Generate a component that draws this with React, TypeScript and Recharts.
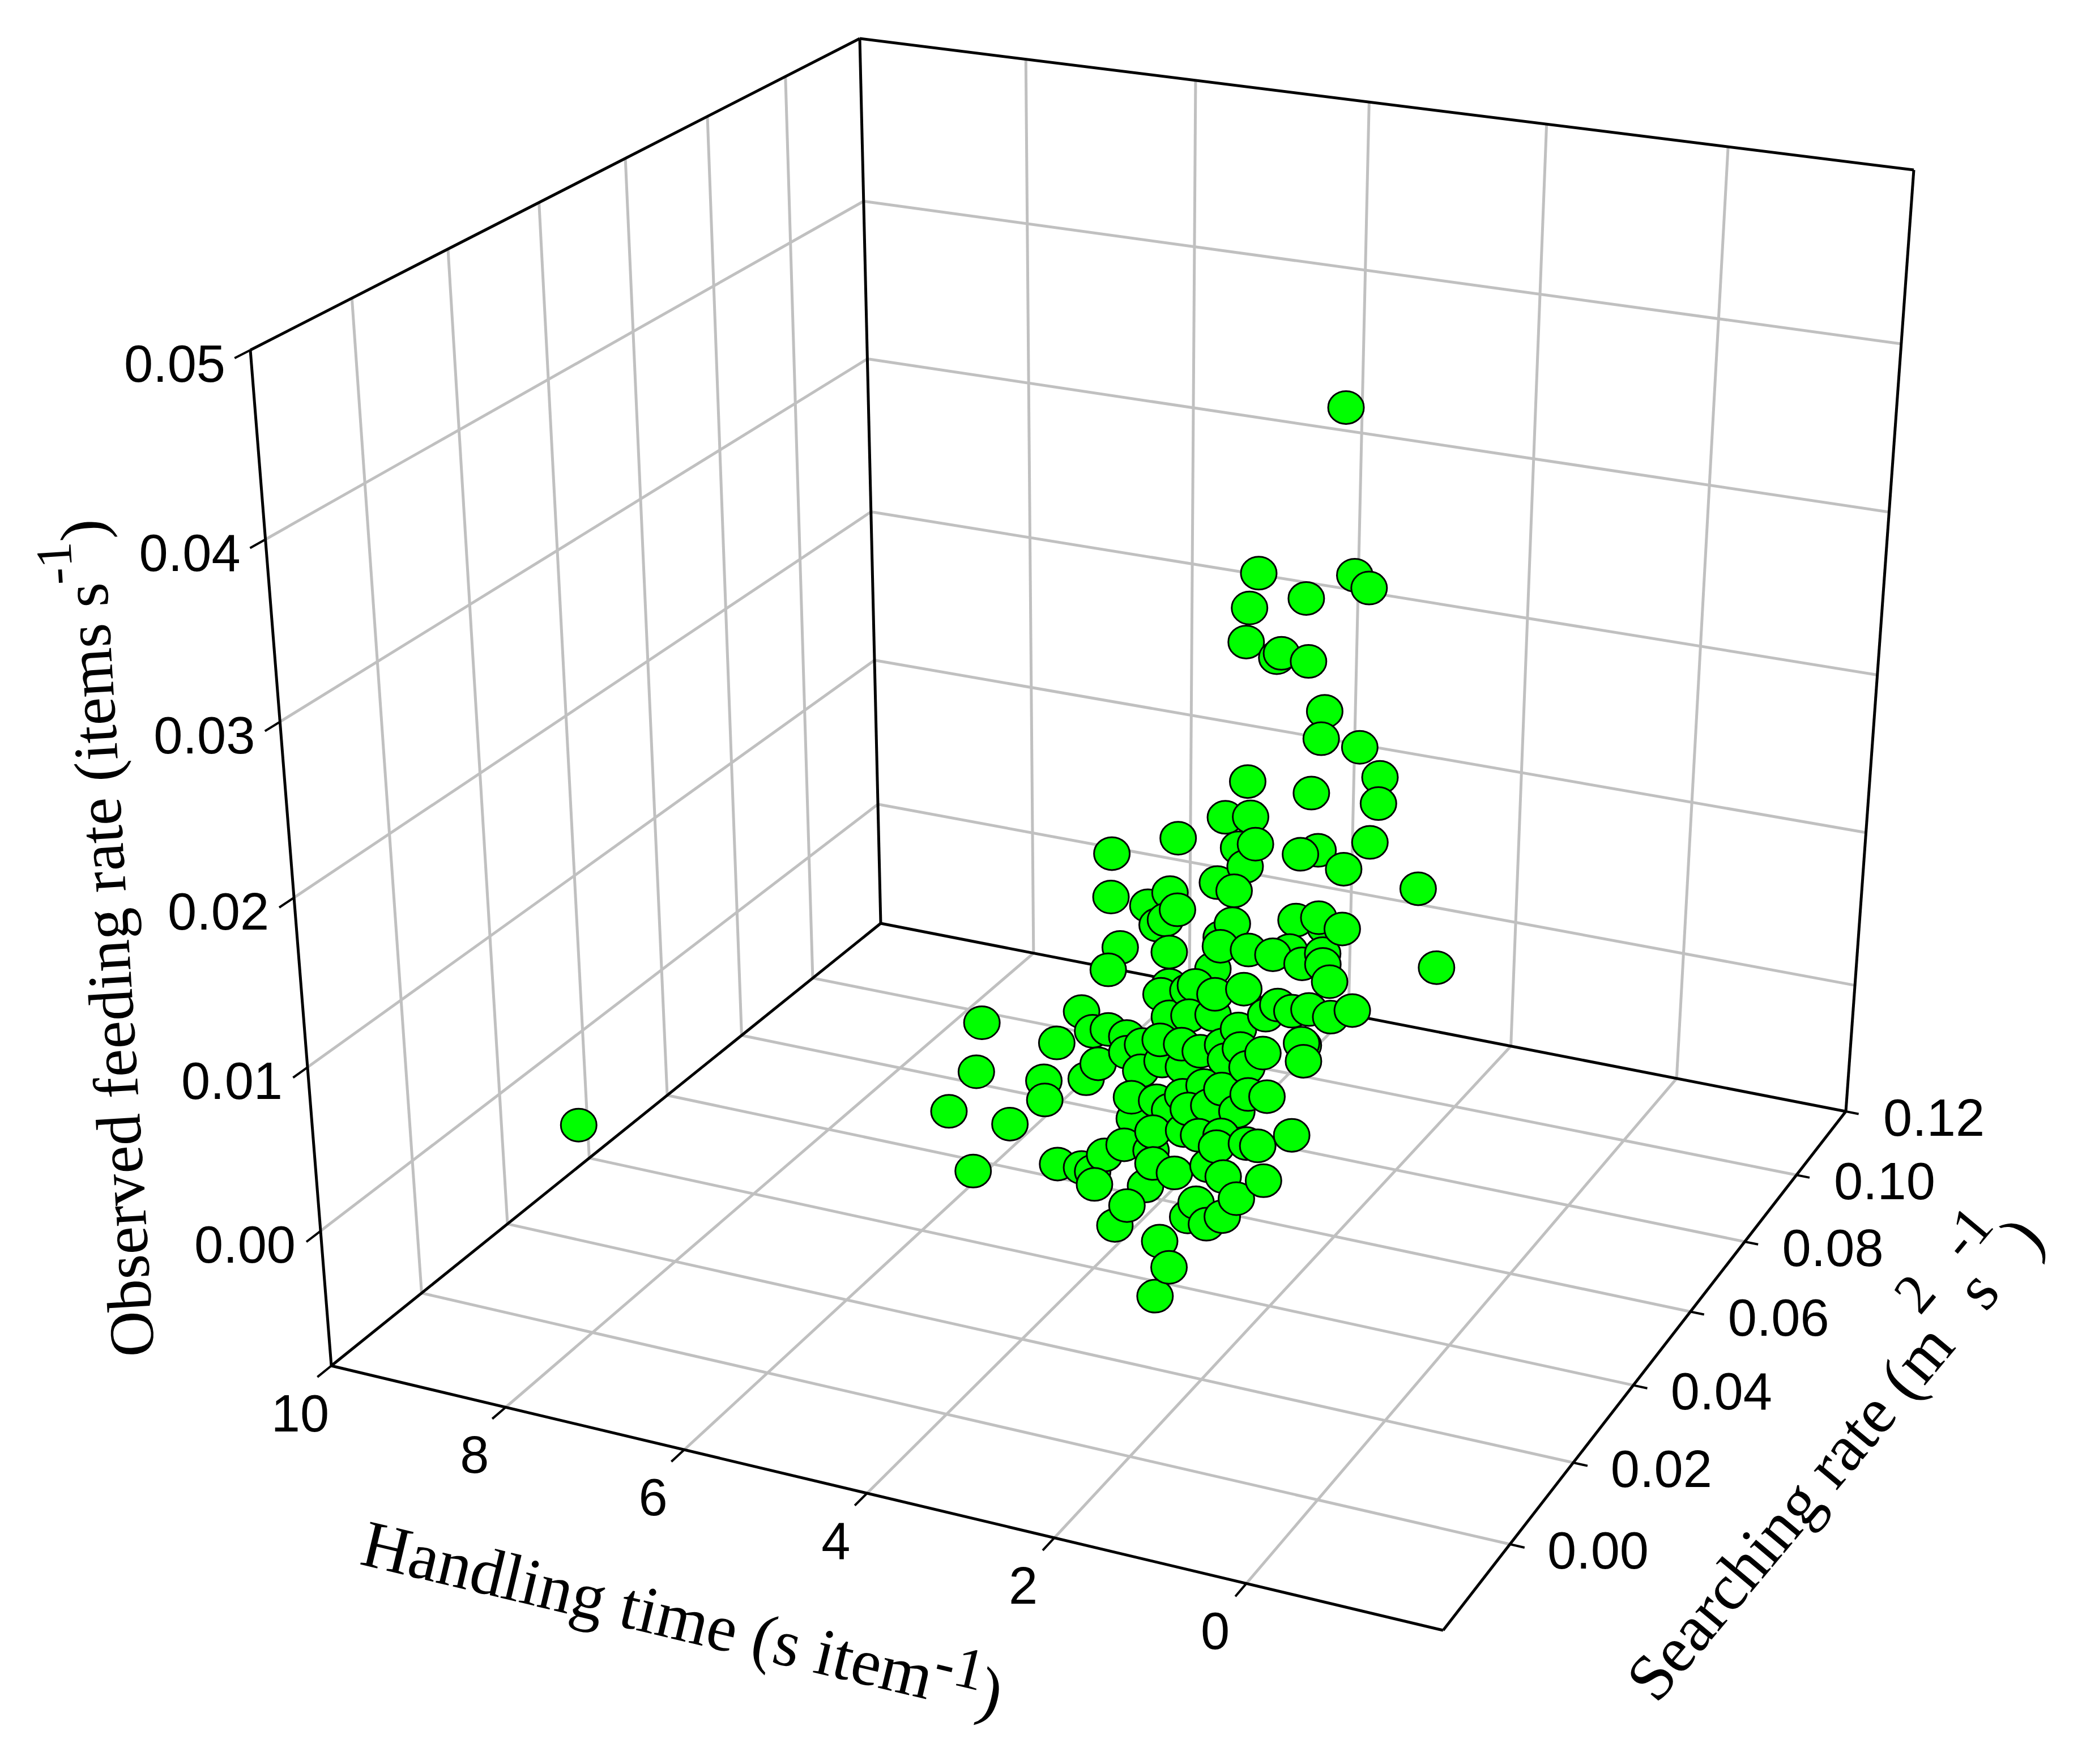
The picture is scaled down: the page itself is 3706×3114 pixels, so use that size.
import { ScatterChart, Scatter, XAxis, YAxis, ReferenceLine } from 'recharts'

const WIDTH = 3706
const HEIGHT = 3114

const HANDLING_RANGE = [-2, 10]
const SEARCHING_RANGE = [-0.02, 0.12]
const FEEDING_RANGE = [-0.0085, 0.05]

const handlingTicks = [10, 8, 6, 4, 2, 0]
const searchingTicks = [0, 0.02, 0.04, 0.06, 0.08, 0.1, 0.12]
const feedingTicks = [0, 0.01, 0.02, 0.03, 0.04, 0.05]
const handlingGrid = [8, 6, 4, 2, 0]
const searchingGrid = [0, 0.02, 0.04, 0.06, 0.08, 0.1]
const feedingGrid = [0, 0.01, 0.02, 0.03, 0.04]

// handling time (s item-1)
const handlingTime = [
  2.28, 2.75, 2.77, 2.69, 2.36, 2.31, 2.02, 2.2, 1.76, 1.57,
  1.73, 1.69, 1.28, 0.99, 0.93, 2.32, 1.64, 2.48, 2.21, 2.91,
  3.55, 2.08, 2.26, 2.15, 1.6, 1.45, 1.14, 0.94, 0.32, 2.37,
  2.19, 3.44, 3.04, 2.84, 2.72, 2.81, 2.9, 2.13, 2.21, 3.22,
  3.27, 2.69, 2.18, 1.88, 1.49, 1.25, 1.0, 1.18, 1.62, 1.48,
  1.31, 1.13, 1.09, 0.98, 0.27, 1.85, 2.22, 2.33, 2.61, 2.66,
  2.41, 2.12, 1.54, 1.45, 1.3, 1.12, 0.89, 0.7, 3.44, 4.45,
  3.11, 2.91, 3.28, 2.53, 2.32, 2.1, 1.79, 1.1, 1.12, 1.06,
  3.63, 4.39, 3.14, 3.23, 2.87, 2.74, 2.55, 2.32, 2.12, 1.92,
  1.73, 1.49, 1.62, 1.85, 2.26, 2.49, 2.68, 3.65, 3.6, 4.57,
  3.9, 2.7, 2.43, 2.19, 2.0, 1.81, 1.53, 1.33, 2.09, 1.91,
  2.29, 1.61, 2.63, 2.39, 2.1, 1.7, 0.99, 2.66, 2.83, 2.37,
  1.94, 1.71, 1.43, 1.31, 3.3, 3.04, 2.92, 2.86, 4.14, 2.31,
  2.08, 1.76, 1.56, 1.17, 2.35, 2.47, 2.56, 1.77, 1.38, 1.82,
  1.62, 1.49, 2.04, 1.9, 1.97, 8.5,
]

// searching rate (m2 s-1)
const searchingRate = [
  0.066, 0.054, 0.052, 0.049, 0.049, 0.049, 0.049, 0.053, 0.055, 0.054,
  0.046, 0.044, 0.044, 0.042, 0.04, 0.04, 0.04, 0.038, 0.038, 0.036,
  0.034, 0.036, 0.036, 0.035, 0.036, 0.037, 0.036, 0.038, 0.035, 0.033,
  0.033, 0.031, 0.031, 0.032, 0.031, 0.03, 0.03, 0.031, 0.03, 0.028,
  0.026, 0.028, 0.029, 0.029, 0.032, 0.032, 0.032, 0.032, 0.029, 0.03,
  0.029, 0.03, 0.029, 0.028, 0.04, 0.027, 0.028, 0.026, 0.026, 0.025,
  0.026, 0.026, 0.025, 0.026, 0.026, 0.026, 0.026, 0.027, 0.023, 0.021,
  0.022, 0.022, 0.022, 0.024, 0.024, 0.025, 0.024, 0.024, 0.024, 0.023,
  0.021, 0.018, 0.02, 0.019, 0.021, 0.022, 0.022, 0.022, 0.022, 0.023,
  0.023, 0.023, 0.022, 0.022, 0.021, 0.021, 0.02, 0.018, 0.017, 0.015,
  0.015, 0.018, 0.018, 0.019, 0.02, 0.02, 0.02, 0.02, 0.018, 0.019,
  0.018, 0.019, 0.017, 0.016, 0.017, 0.017, 0.018, 0.015, 0.014, 0.015,
  0.017, 0.016, 0.017, 0.017, 0.013, 0.013, 0.013, 0.012, 0.011, 0.014,
  0.014, 0.015, 0.014, 0.015, 0.013, 0.011, 0.01, 0.012, 0.013, 0.011,
  0.011, 0.012, 0.009, 0.008, 0.006, 0.009,
]

// observed feeding rate (items s-1)
const feedingRate = [
  0.0409, 0.0329, 0.0312, 0.0298, 0.0292, 0.0295, 0.0293, 0.0321, 0.0335, 0.0331,
  0.0272, 0.026, 0.0259, 0.0248, 0.0237, 0.0236, 0.0236, 0.0217, 0.022, 0.0204,
  0.0192, 0.0209, 0.0205, 0.0197, 0.0208, 0.021, 0.0204, 0.0218, 0.0203, 0.0189,
  0.0186, 0.0173, 0.0172, 0.018, 0.0173, 0.0168, 0.0164, 0.0171, 0.0164, 0.0151,
  0.0141, 0.0154, 0.0161, 0.0162, 0.0178, 0.0182, 0.0178, 0.0177, 0.0162, 0.0164,
  0.016, 0.0166, 0.0162, 0.0155, 0.0147, 0.0143, 0.0149, 0.0142, 0.0139, 0.0135,
  0.0138, 0.0139, 0.0135, 0.014, 0.0138, 0.0141, 0.0139, 0.0143, 0.012, 0.0106,
  0.0115, 0.0113, 0.0112, 0.0125, 0.0128, 0.0129, 0.0126, 0.0124, 0.0125, 0.0117,
  0.0103, 0.0083, 0.0098, 0.009, 0.0106, 0.011, 0.0115, 0.0115, 0.0113, 0.0117,
  0.0117, 0.0117, 0.0109, 0.0111, 0.0104, 0.0105, 0.0099, 0.0086, 0.0077, 0.0063,
  0.0063, 0.0087, 0.0088, 0.0092, 0.0098, 0.0098, 0.0098, 0.0099, 0.0087, 0.0089,
  0.0084, 0.0089, 0.0077, 0.0074, 0.0076, 0.0078, 0.0084, 0.0065, 0.0059, 0.0065,
  0.0075, 0.0073, 0.0076, 0.0076, 0.005, 0.0051, 0.005, 0.0045, 0.004, 0.006,
  0.0057, 0.0063, 0.0061, 0.0061, 0.0048, 0.0039, 0.0028, 0.0047, 0.0052, 0.004,
  0.0038, 0.0042, 0.0027, 0.0015, 0.0001, 0.0021,
]

// page position [x, y] and relative depth of the eight box corners,
// indexed by [u, v, w] = [handling reversed, searching, feeding]
const corners = [
  [0, 0, 0, 585, 2411, 1],
  [1, 0, 0, 2548, 2878, 0.93],
  [0, 1, 0, 1555, 1630, 1.18],
  [1, 1, 0, 3259, 1962, 1.11],
  [0, 0, 1, 442, 618, 0.9],
  [1, 0, 1, 2612, 990, 0.83],
  [0, 1, 1, 1518, 68, 1.08],
  [1, 1, 1, 3379, 300, 1.01],
]

const [hMin, hMax] = HANDLING_RANGE
const [sMin, sMax] = SEARCHING_RANGE
const [fMin, fMax] = FEEDING_RANGE

function project(h: number, s: number, f: number) {
  const u = (hMax - h) / (hMax - hMin)
  const v = (s - sMin) / (sMax - sMin)
  const w = (f - fMin) / (fMax - fMin)
  let x = 0
  let y = 0
  let d = 0
  for (const [cu, cv, cw, cx, cy, cz] of corners) {
    const b = (cu ? u : 1 - u) * (cv ? v : 1 - v) * (cw ? w : 1 - w) * cz
    x += b * cx
    y += b * cy
    d += b
  }
  return { px: x / d, py: y / d, depth: d }
}

type P3 = [number, number, number]
const seg = (a: P3, b: P3) => {
  const p = project(a[0], a[1], a[2])
  const q = project(b[0], b[1], b[2])
  return [{ x: p.px, y: p.py }, { x: q.px, y: q.py }]
}

const gridSegments: P3[][] = []
handlingGrid.forEach((h) => {
  gridSegments.push([[h, sMin, fMin], [h, sMax, fMin]])
  gridSegments.push([[h, sMax, fMin], [h, sMax, fMax]])
})
searchingGrid.forEach((s) => {
  gridSegments.push([[hMax, s, fMin], [hMin, s, fMin]])
  gridSegments.push([[hMax, s, fMin], [hMax, s, fMax]])
})
feedingGrid.forEach((f) => {
  gridSegments.push([[hMax, sMin, f], [hMax, sMax, f]])
  gridSegments.push([[hMax, sMax, f], [hMin, sMax, f]])
})

const edgeSegments: P3[][] = [
  [[hMax, sMin, fMin], [hMax, sMin, fMax]],
  [[hMax, sMax, fMin], [hMax, sMax, fMax]],
  [[hMin, sMax, fMin], [hMin, sMax, fMax]],
  [[hMax, sMin, fMax], [hMax, sMax, fMax]],
  [[hMax, sMax, fMax], [hMin, sMax, fMax]],
  [[hMax, sMin, fMin], [hMin, sMin, fMin]],
  [[hMin, sMin, fMin], [hMin, sMax, fMin]],
  [[hMax, sMin, fMin], [hMax, sMax, fMin]],
  [[hMax, sMax, fMin], [hMin, sMax, fMin]],
]

const tickSegments: P3[][] = [
  ...feedingTicks.map((f) => [[hMax, sMin, f], [hMax, sMin - 0.003, f]] as P3[]),
  ...handlingTicks.map((h) => [[h, sMin, fMin], [h, sMin - 0.003, fMin]] as P3[]),
  ...searchingTicks.map((s) => [[hMin, s, fMin], [hMin - 0.15, s, fMin]] as P3[]),
]

const tickLabels = [
  ...feedingTicks.map((f) => ({ ...project(hMax, sMin, f), text: f.toFixed(2), dx: -44, dy: 24, anchor: 'end' })),
  ...handlingTicks.map((h) => ({ ...project(h, sMin, fMin), text: String(h), dx: -55, dy: 84, anchor: 'middle' })),
  ...searchingTicks.map((s) => ({ ...project(hMin, s, fMin), text: s.toFixed(2), dx: 66, dy: 11, anchor: 'start' })),
]

const points = handlingTime
  .map((h, i) => ({ ...project(h, searchingRate[i], feedingRate[i]), h, s: searchingRate[i], f: feedingRate[i] }))
  .sort((a, b) => b.depth - a.depth)

const SANS = '"Liberation Sans", Arial, Helvetica, sans-serif'
const SERIF = '"Liberation Serif", "Times New Roman", Times, serif'

const Dot = (props: any) => (
  <ellipse cx={props.cx} cy={props.cy} rx={31.5} ry={29} fill="#00ff00" stroke="#000000" strokeWidth={3} />
)

const TickText = (props: any) => {
  const { cx, cy, payload } = props
  return (
    <text
      x={cx + payload.dx}
      y={cy + payload.dy}
      textAnchor={payload.anchor}
      dominantBaseline="central"
      fontFamily={SANS}
      fontSize={92}
      fill="#000"
    >
      {payload.text}
    </text>
  )
}

const FeedingTitle = (props: any) => (
  <text
    x={props.cx}
    y={props.cy}
    transform={`rotate(-93.5 ${props.cx} ${props.cy})`}
    textAnchor="middle"
    fontFamily={SERIF}
    fontSize={112}
    fill="#000"
  >
    Observed feeding rate (items s
    <tspan dy={-60} fontSize={90}>-1</tspan>
    <tspan dy={60}>)</tspan>
  </text>
)

const HandlingTitle = (props: any) => (
  <text
    x={props.cx}
    y={props.cy}
    transform={`rotate(13.4 ${props.cx} ${props.cy})`}
    textAnchor="middle"
    fontFamily={SERIF}
    fontSize={118}
    fill="#000"
  >
    Handling time (s item
    <tspan dy={-36} fontSize={104}>-1</tspan>
    <tspan dy={36}>)</tspan>
  </text>
)

const SearchingTitle = (props: any) => (
  <text
    x={props.cx}
    y={props.cy}
    transform={`rotate(-50 ${props.cx} ${props.cy})`}
    textAnchor="middle"
    fontFamily={SERIF}
    fontSize={116}
    fill="#000"
  >
    Searching rate (m
    <tspan dy={-85} fontSize={100}>2</tspan>
    <tspan dy={85}> s</tspan>
    <tspan dy={-85} fontSize={100}>-1</tspan>
    <tspan dy={85}>)</tspan>
  </text>
)

export default function App() {
  return (
    <div style={{ position: 'absolute', left: 0, top: 0, width: WIDTH, height: HEIGHT, background: '#fff' }}>
      <ScatterChart width={WIDTH} height={HEIGHT} margin={{ top: 0, right: 0, bottom: 0, left: 0 }}>
        <XAxis type="number" dataKey="px" domain={[0, WIDTH]} allowDataOverflow hide />
        <YAxis type="number" dataKey="py" domain={[0, HEIGHT]} allowDataOverflow reversed hide />
        {gridSegments.map((g, i) => (
          <ReferenceLine key={`g${i}`} segment={seg(g[0], g[1])} stroke="#c0c0c0" strokeWidth={5} ifOverflow="visible" />
        ))}
        {edgeSegments.map((g, i) => (
          <ReferenceLine key={`e${i}`} segment={seg(g[0], g[1])} stroke="#000" strokeWidth={5} ifOverflow="visible" />
        ))}
        {tickSegments.map((g, i) => (
          <ReferenceLine key={`t${i}`} segment={seg(g[0], g[1])} stroke="#000" strokeWidth={4} ifOverflow="visible" />
        ))}
        <Scatter data={points} shape={Dot} isAnimationActive={false} />
        <Scatter data={tickLabels} shape={TickText} isAnimationActive={false} />
        <Scatter data={[{ px: 227, py: 1654 }]} shape={FeedingTitle} isAnimationActive={false} />
        <Scatter data={[{ px: 1196, py: 2895 }]} shape={HandlingTitle} isAnimationActive={false} />
        <Scatter data={[{ px: 3269, py: 2600 }]} shape={SearchingTitle} isAnimationActive={false} />
      </ScatterChart>
    </div>
  )
}
